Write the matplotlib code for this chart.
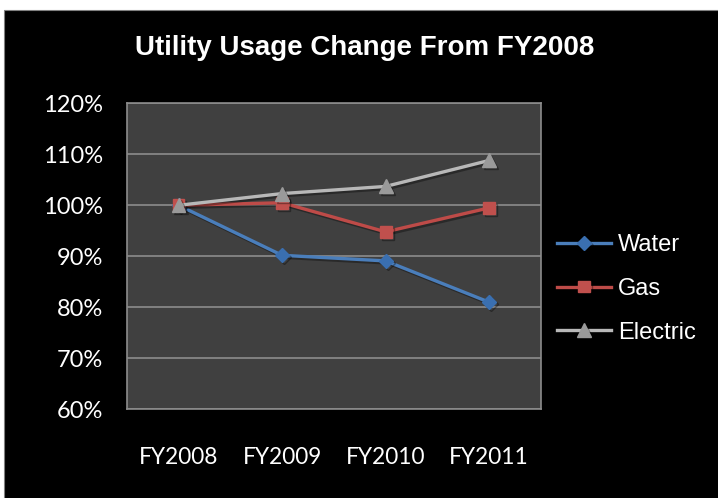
import matplotlib
matplotlib.use("Agg")
import matplotlib.pyplot as plt
from matplotlib.patches import Rectangle
from matplotlib.ticker import FuncFormatter
import matplotlib.patheffects as pe

categories = ["FY2008", "FY2009", "FY2010", "FY2011"]
water = [100.0, 90.2, 89.1, 81.0]
gas = [100.0, 100.5, 94.8, 99.5]
electric = [100.0, 102.3, 103.7, 108.8]
y_ticks = [60, 70, 80, 90, 100, 110, 120]
title = "Utility Usage Change From FY2008"

fig = plt.figure(figsize=(7.18, 4.98), dpi=100)
fig.patch.set_facecolor("white")
fig.patches.append(Rectangle((4 / 718, -0.05), 1.1, 1.05 - 10 / 498, transform=fig.transFigure,
                             facecolor="black", edgecolor="#808080", lw=0.8, zorder=-10))

ax = fig.add_axes([0.1765, 0.178, 0.577, 0.6146])
ax.set_facecolor("#404040")
x = list(range(len(categories)))

shadow = [pe.SimpleLineShadow(offset=(1.5, -1.5), shadow_color="black", alpha=0.35), pe.Normal()]
series = [
    ("Water", water, "#4A7EBB", "#3A6FB0", "D", 7),
    ("Gas", gas, "#BE4B48", "#C0504D", "s", 8.5),
    ("Electric", electric, "#B8B8B8", "#9A9A9A", "^", 10),
]
for name, vals, lc, mc, mk, ms in series:
    ax.plot(x, vals, color=lc, lw=2.4, marker=mk, markersize=ms, markerfacecolor=mc,
            markeredgecolor=mc, label=name, zorder=3, path_effects=shadow)

ax.set_xlim(-0.5, len(categories) - 0.5)
ax.set_ylim(60, 120)
ax.set_yticks(y_ticks)
ax.yaxis.set_major_formatter(FuncFormatter(lambda v, p: f"{v:.0f}%"))
ax.set_xticks(x)
ax.set_xticklabels(categories)
ax.grid(axis="y", color="#8C8C8C", lw=1.2)
ax.set_axisbelow(True)
for s in ax.spines.values():
    s.set_color("#8C8C8C")
    s.set_linewidth(1.2)
ax.tick_params(length=0, colors="white")
ax.tick_params(axis="y", labelsize=17, pad=17)
ax.tick_params(axis="x", labelsize=16.3, pad=27)
for lab in ax.get_xticklabels() + ax.get_yticklabels():
    lab.set_fontfamily("Lato")
    lab.set_color("white")

fig.text(0.508, 0.903, title, ha="center", va="center", color="white",
         fontsize=20, fontweight="bold", family=["Liberation Sans Narrow", "Liberation Sans", "DejaVu Sans"])

leg = fig.legend(loc="center left", bbox_to_anchor=(0.746, 0.42), frameon=False,
                 prop={"family": "Liberation Sans", "size": 17}, labelcolor="white",
                 handlelength=2.3, labelspacing=0.92, handletextpad=0.3)

fig.savefig("out.png", dpi=100, facecolor=fig.get_facecolor())
